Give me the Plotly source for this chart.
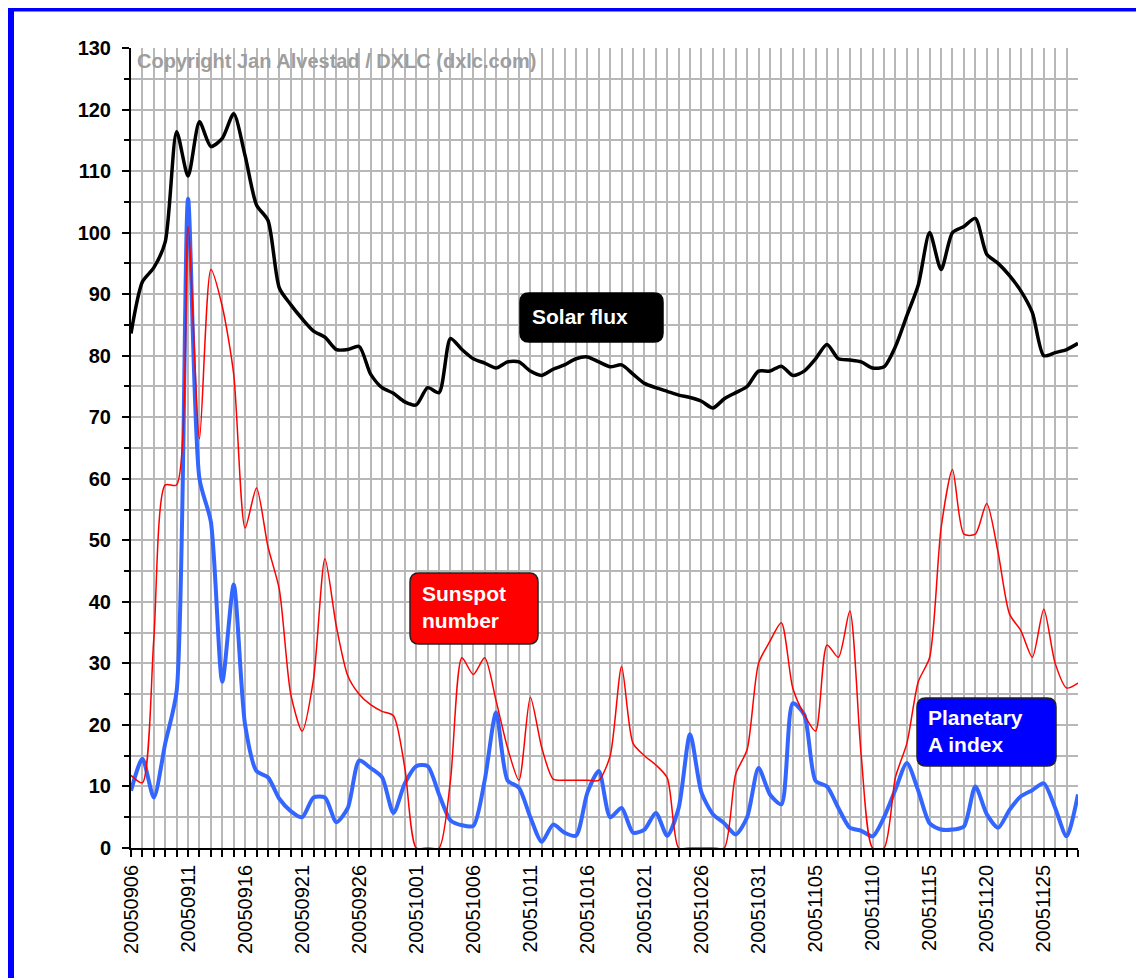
import pandas as pd
import plotly.graph_objects as go

# ---------------- data ----------------
dates = pd.date_range("2005-09-06", "2005-11-28", freq="D")

solar_flux = [83.6, 92, 94.3, 98.5, 116.4, 109.2, 118, 114, 115.3, 119.3,
              112.5, 104.5, 102, 91, 88.3, 86, 84, 83, 81, 81,
              81.5, 77, 74.8, 73.9, 72.5, 72, 74.8, 74, 82.8, 81,
              79.5, 78.8, 78, 79, 79, 77.5, 76.8, 77.8, 78.5, 79.5,
              79.8, 79, 78.2, 78.5, 77, 75.5, 74.8, 74.2, 73.6, 73.2,
              72.6, 71.5, 73, 74, 75, 77.5, 77.5, 78.3, 76.8, 77.5,
              79.5, 81.8, 79.5, 79.3, 79, 78, 78.2, 81.5, 86.5, 91.5,
              100, 94, 100, 101, 102.3, 96.5, 95, 93, 90.5, 87,
              80, 80.5, 81, 82]

sunspot_number = [11.8, 10.6, 34, 59, 59, 101, 66.5, 94, 88, 77,
                  52, 58.5, 49, 42, 25, 19, 27.5, 47, 36, 28,
                  25, 23.3, 22.2, 21.5, 13, 0, 0, 0, 11, 30.9,
                  28.2, 30.9, 23.9, 16.3, 11, 24.5, 16.3, 11.2, 11, 11,
                  11, 11, 15, 29.5, 17, 15, 13.5, 11.4, 0, 0,
                  0, 0, 0, 12, 16, 30, 33.6, 36.6, 26, 21.7,
                  19, 33, 31, 38.5, 15, 0, 0, 11.5, 17, 27,
                  31, 52, 61.5, 51, 51, 56, 48, 38, 35.3, 31,
                  38.8, 30, 26, 26.8]

planetary_a = [9.3, 14.5, 8.2, 17, 25.5, 105.5, 60, 53, 27, 42.8,
               20, 12.5, 11.5, 8, 6, 5, 8.2, 8.2, 4.2, 6.5,
               14.2, 13, 11.5, 5.7, 10.5, 13.3, 13.3, 8.7, 4.5, 3.7,
               3.6, 11, 22, 11, 9.8, 5, 1, 3.8, 2.5, 2,
               9, 12.5, 5, 6.5, 2.5, 3, 5.7, 2, 6.5, 18.5,
               9, 5.5, 4, 2.2, 5, 13, 8.7, 7.1, 23.5, 21.7,
               10.9, 10, 6.5, 3.3, 2.8, 1.9, 5, 9.5, 13.8, 9.3,
               4, 3, 3, 3.5, 10, 5.5, 3.3, 6.2, 8.4, 9.4,
               10.5, 6.5, 1.9, 8.7]

y_range = [0, 130]
copyright_text = "Copyright Jan Alvestad / DXLC (dxlc.com)"

# ---------------- layout geometry ----------------
# the page body has an 8px margin, so the figure starts at (8, 8)
W, H = 1136, 970
ML, MR, MT, MB = 123, 66, 40, 130
PW = W - ML - MR            # 947
PH = H - MT - MB            # 800
LEFT_PAGE, BOTTOM_PAGE = 8 + ML, 8 + H - MB   # 131, 848


def px(x):
    return (x - LEFT_PAGE) / PW


def py(y):
    return (BOTTOM_PAGE - y) / PH


def rounded(x0, y0, x1, y1, r=9):
    X0, X1 = px(x0), px(x1)
    Yt, Yb = py(y0), py(y1)
    rx, ry = r / PW, r / PH
    return (f"M {X0+rx},{Yt} L {X1-rx},{Yt} Q {X1},{Yt} {X1},{Yt-ry} "
            f"L {X1},{Yb+ry} Q {X1},{Yb} {X1-rx},{Yb} "
            f"L {X0+rx},{Yb} Q {X0},{Yb} {X0},{Yb+ry} "
            f"L {X0},{Yt-ry} Q {X0},{Yt} {X0+rx},{Yt} Z")


FONT = "Liberation Sans, Arial, sans-serif"
GRID = "#b8b8b8"
DAY = 86400000

fig = go.Figure()
fig.add_trace(go.Scatter(x=dates, y=solar_flux, mode="lines", name="Solar flux",
                         line=dict(color="black", width=3.5, shape="spline", smoothing=0.7)))
fig.add_trace(go.Scatter(x=dates, y=planetary_a, mode="lines", name="Planetary A index",
                         line=dict(color="#3366ff", width=4, shape="spline", smoothing=0.7)))
fig.add_trace(go.Scatter(x=dates, y=sunspot_number, mode="lines", name="Sunspot number",
                         line=dict(color="#ff0000", width=1.5, shape="spline", smoothing=0.7)))

axis_common = dict(showline=True, linecolor="black", linewidth=2, zeroline=False,
                   ticks="outside", tickcolor="black", tickwidth=2)

fig.update_layout(
    width=W, height=H,
    margin=dict(l=ML, r=MR, t=MT, b=MB),
    paper_bgcolor="white", plot_bgcolor="white",
    showlegend=False,
    xaxis=dict(**axis_common, type="date", range=[dates[0], dates[-1]],
               tick0=dates[0], dtick=5 * DAY, tickformat="%Y%m%d", tickangle=-90,
               ticklen=7, showgrid=True, gridcolor=GRID, gridwidth=1.5,
               tickfont=dict(family=FONT, size=20, color="black"),
               minor=dict(dtick=DAY, tick0=dates[0], showgrid=True, gridcolor=GRID,
                          gridwidth=1.5, ticks="outside", ticklen=7,
                          tickcolor="black", tickwidth=2)),
    xaxis2=dict(overlaying="x", matches="x", anchor="y", side="bottom", type="date",
                range=[dates[0], dates[-1]], tick0=dates[0], dtick=DAY,
                ticks="inside", ticklen=6, tickcolor="black", tickwidth=2,
                showticklabels=False, showgrid=False, showline=False, zeroline=False),
    yaxis=dict(**axis_common, range=y_range, dtick=10, ticklen=7,
               showgrid=True, gridcolor=GRID, gridwidth=1.5, ticklabelstandoff=7,
               tickfont=dict(family=FONT, size=20, color="black", weight="bold"),
               minor=dict(dtick=5, showgrid=True, gridcolor=GRID, gridwidth=1.5,
                          ticks="outside", ticklen=5, tickcolor="black", tickwidth=2)),
    yaxis2=dict(**axis_common, overlaying="y", side="right", anchor="x",
                range=y_range, dtick=10, ticklen=7, showgrid=False, ticklabelstandoff=4,
                tickfont=dict(family=FONT, size=20, color="black", weight="bold"),
                minor=dict(dtick=5, ticks="outside", ticklen=5,
                           tickcolor="black", tickwidth=2)),
)

shapes = [
    # blue outer frame
    dict(type="rect", xref="paper", yref="paper",
         x0=px(11), x1=px(1175), y0=py(1010), y1=py(8.5),
         line=dict(color="#0000ff", width=6), fillcolor="rgba(0,0,0,0)", layer="above"),
    dict(type="path", xref="paper", yref="paper", path=rounded(520, 293, 663, 342),
         fillcolor="black", line=dict(color="black", width=1.5), layer="above"),
    dict(type="path", xref="paper", yref="paper", path=rounded(410, 573, 538, 644),
         fillcolor="#ff0000", line=dict(color="#222", width=1.5), layer="above"),
    dict(type="path", xref="paper", yref="paper", path=rounded(917, 698, 1056, 766),
         fillcolor="#0000ff", line=dict(color="#222", width=1.5), layer="above"),
]
fig.update_layout(shapes=shapes)

label_font = dict(family=FONT, size=21, color="white", weight="bold")
annotations = [
    dict(text="Solar flux", x=px(530), y=py(316), xanchor="left", yanchor="middle",
         font=label_font),
    dict(text="Sunspot<br>number", x=px(420), y=py(607), xanchor="left",
         yanchor="middle", align="left", font=label_font),
    dict(text="Planetary<br>A index", x=px(926), y=py(731), xanchor="left",
         yanchor="middle", align="left", font=label_font),
    dict(text=copyright_text, x=px(135), y=py(61), xanchor="left", yanchor="middle",
         font=dict(family=FONT, size=20, color="#9e9e9e", weight="bold")),
]
for a in annotations:
    a.update(xref="paper", yref="paper", showarrow=False)
fig.update_layout(annotations=annotations)

fig.write_html("out.html")
